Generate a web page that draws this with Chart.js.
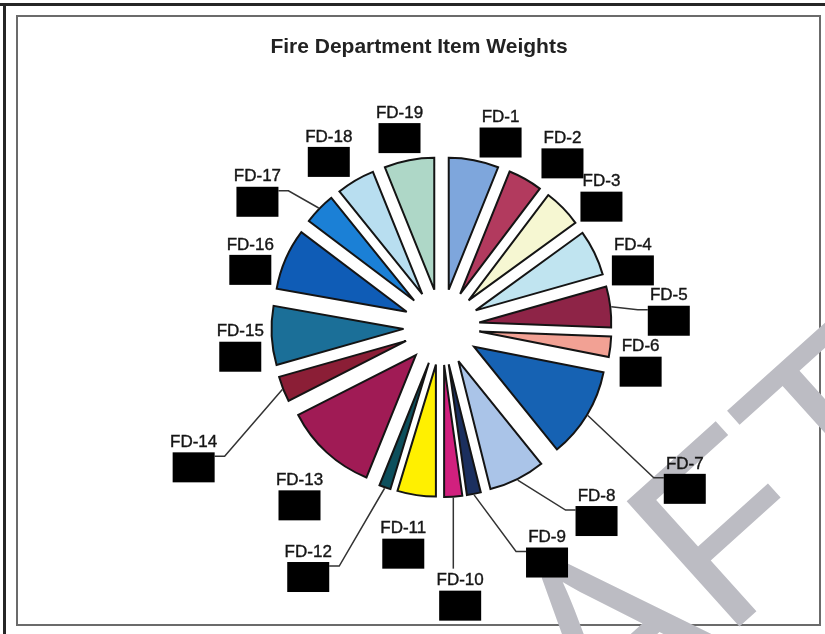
<!DOCTYPE html>
<html>
<head>
<meta charset="utf-8">
<script src="https://cdn.jsdelivr.net/npm/chart.js@4.4.1/dist/chart.umd.min.js"></script>
<style>
  html, body { margin: 0; padding: 0; background: #ffffff; }
  #wrap { position: relative; width: 825px; height: 634px; }
  canvas { display: block; }
</style>
</head>
<body>
<div id="wrap"><canvas id="c" width="825" height="634"></canvas></div>
<script>
// ---- data ----
const categories = ['FD-1','FD-2','FD-3','FD-4','FD-5','FD-6','FD-7','FD-8','FD-9','FD-10',
                    'FD-11','FD-12','FD-13','FD-14','FD-15','FD-16','FD-17','FD-18','FD-19'];
const weights = [6.1, 4.2, 4.7, 5.6, 5.0, 2.5, 11.1, 6.9, 1.7, 2.2,
                 4.7, 1.4, 11.4, 3.1, 7.2, 7.5, 3.9, 4.7, 6.1];
const sliceColors = ['#7ea6dc','#b23a5e','#f6f7d2','#c0e4f0','#8e2447','#f2a194','#1662b3',
                     '#aac4e8','#1b2f5e','#d1207e','#fff000','#0d4f5c','#a01b55','#8b1e36',
                     '#1b6f98','#0f5cb6','#1b80d6','#b8def0','#aed7c7'];
const chartTitle = 'Fire Department Item Weights';
const watermarkText = 'DRAFT';

// label layout: [angle shift from slice middle (deg), distance as multiple of pie extent, leader]
const labelPlacement = [
  [6, 1.19, ''], [5.5, 1.24, ''], [5.5, 1.21, ''], [7, 1.19, ''], [3, 1.34, 'R'],
  [3.5, 1.19, ''], [1, 1.69, 'R'], [-13.5, 1.42, 'R'], [-14, 1.47, 'R'], [0, 1.59, 'D'],
  [1.5, 1.30, ''], [9.5, 1.62, 'L'], [-2.5, 1.30, ''], [-6.5, 1.65, 'L'], [-3, 1.19, ''],
  [-4.5, 1.19, ''], [-8, 1.34, 'L'], [-2.5, 1.22, ''], [-1, 1.19, '']
];

const PIE_RADIUS = 132;   // radius of each wedge
const EXPLODE = 38;       // distance each wedge is pulled out from the centre

// exploded-pie drawing: each wedge is moved out along its middle angle
const ArcEl = Chart.ArcElement || Chart.registry.getElement('arc');
ArcEl.prototype.draw = function (ctx) {
  const p = this.getProps(['x', 'y', 'startAngle', 'endAngle', 'outerRadius']);
  const o = this.options;
  if (p.endAngle - p.startAngle <= 0 || p.outerRadius <= 0) return;
  const mid = (p.startAngle + p.endAngle) / 2;
  const d = o.offset || 0;
  ctx.save();
  ctx.translate(Math.cos(mid) * d, Math.sin(mid) * d);
  ctx.beginPath();
  ctx.moveTo(p.x, p.y);
  ctx.arc(p.x, p.y, p.outerRadius, p.startAngle, p.endAngle);
  ctx.closePath();
  ctx.fillStyle = o.backgroundColor;
  ctx.fill();
  if (o.borderWidth) {
    ctx.lineWidth = o.borderWidth;
    ctx.strokeStyle = o.borderColor;
    ctx.lineJoin = 'miter';
    ctx.miterLimit = 3;
    ctx.stroke();
  }
  ctx.restore();
};

const framePlugin = {
  id: 'frame',
  beforeDraw(chart) {
    const ctx = chart.ctx;
    ctx.save();
    ctx.fillStyle = '#ffffff';
    ctx.fillRect(0, 0, chart.width, chart.height);
    // outer dark frame (top + left)
    ctx.fillStyle = '#262626';
    ctx.fillRect(0, 3, chart.width, 3);
    ctx.fillRect(3, 3, 3, chart.height - 3);
    // inner chart frame
    ctx.strokeStyle = '#6b6b6b';
    ctx.lineWidth = 2;
    ctx.strokeRect(17, 16, 803, 609);
    // watermark
    ctx.translate(340, 986);
    ctx.rotate(-42 * Math.PI / 180);
    ctx.fillStyle = '#bcbcc3';
    ctx.font = '245px "Liberation Sans", Arial, sans-serif';
    ctx.textBaseline = 'alphabetic';
    ctx.textAlign = 'left';
    ctx.fillText(watermarkText, 0, 0);
    ctx.restore();

    ctx.save();
    ctx.fillStyle = '#222222';
    ctx.font = 'bold 21px "Liberation Sans", Arial, sans-serif';
    ctx.textAlign = 'center';
    ctx.textBaseline = 'middle';
    ctx.fillText(chartTitle, 419, 47);
    ctx.restore();
  }
};

const labelPlugin = {
  id: 'sliceLabels',
  afterDatasetsDraw(chart) {
    const ctx = chart.ctx;
    const meta = chart.getDatasetMeta(0);
    ctx.save();
    meta.data.forEach((arc, i) => {
      const p = arc.getProps(['x', 'y', 'startAngle', 'endAngle', 'outerRadius'], true);
      const ext = p.outerRadius + (arc.options.offset || 0);
      const mid = (p.startAngle + p.endAngle) / 2;
      const [dDeg, k, lead] = labelPlacement[i];
      const a = mid + dDeg * Math.PI / 180;
      const cx = p.x + Math.cos(a) * k * ext;
      const cy = p.y + Math.sin(a) * k * ext;
      const top = cy - 24;
      const bw = 42, bh = 30;
      const boxL = cx - bw / 2, boxT = top + 18;

      // leader line
      if (lead) {
        const ax = p.x + Math.cos(mid) * (ext + 1);
        const ay = p.y + Math.sin(mid) * (ext + 1);
        ctx.strokeStyle = '#333333';
        ctx.lineWidth = 1.5;
        ctx.beginPath();
        ctx.moveTo(ax, ay);
        if (lead === 'R') {
          ctx.lineTo(boxL - 10, boxT + 4);
          ctx.lineTo(boxL, boxT + 4);
        } else if (lead === 'L') {
          ctx.lineTo(boxL + bw + 10, boxT + 4);
          ctx.lineTo(boxL + bw, boxT + 4);
        } else {
          ctx.lineTo(ax, top - 4);
        }
        ctx.stroke();
      }

      // category text
      ctx.fillStyle = '#161616';
      ctx.strokeStyle = '#161616';
      ctx.lineWidth = 0.4;
      ctx.font = '17px "Liberation Sans", Arial, sans-serif';
      ctx.textAlign = 'center';
      ctx.textBaseline = 'middle';
      ctx.fillText(categories[i], cx, top + 8);
      ctx.strokeText(categories[i], cx, top + 8);

      // redacted value box
      ctx.fillStyle = '#000000';
      ctx.fillRect(boxL, boxT, bw, bh);
      ctx.font = '14px "Liberation Sans", Arial, sans-serif';
      ctx.fillText(weights[i].toFixed(1) + '%', cx, boxT + bh / 2);
    });
    ctx.restore();
  }
};

new Chart(document.getElementById('c'), {
  type: 'pie',
  data: {
    labels: categories,
    datasets: [{
      data: weights,
      backgroundColor: sliceColors,
      borderColor: '#141414',
      borderWidth: 2,
      offset: EXPLODE
    }]
  },
  options: {
    responsive: false,
    animation: false,
    devicePixelRatio: 1,
    radius: PIE_RADIUS,
    layout: { padding: { left: 271, right: 213, top: 157, bottom: 137 } },
    plugins: {
      legend: { display: false },
      title: { display: false },
      tooltip: { enabled: false }
    }
  },
  plugins: [framePlugin, labelPlugin]
});
</script>
</body>
</html>
